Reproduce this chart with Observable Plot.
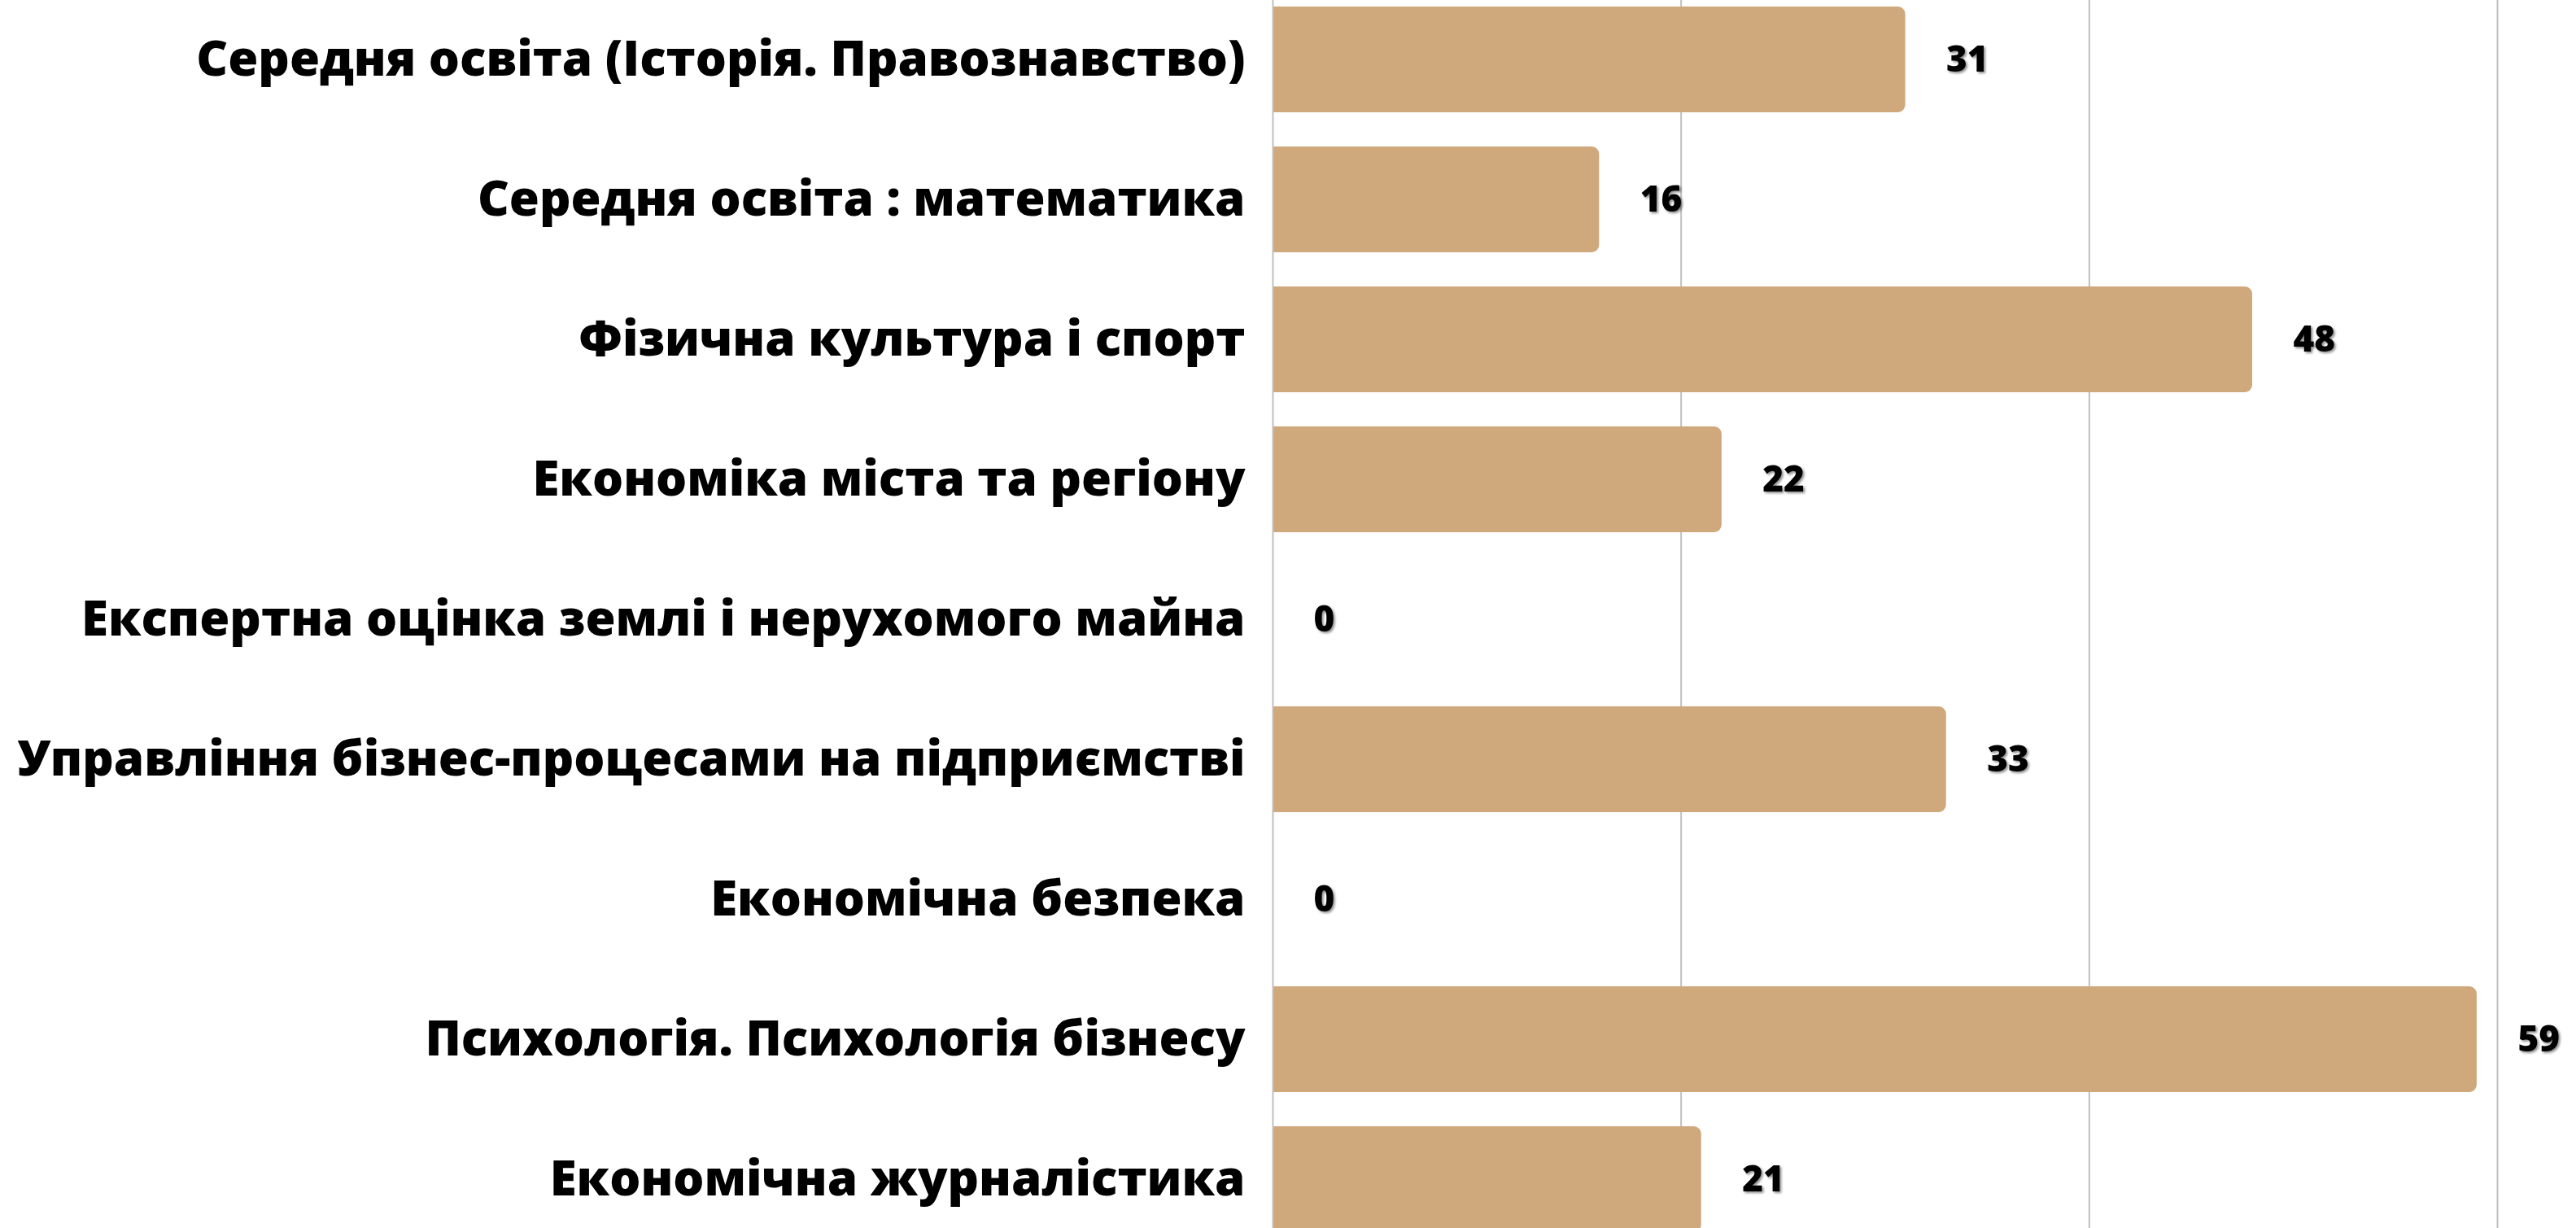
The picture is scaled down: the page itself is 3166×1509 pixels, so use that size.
<!DOCTYPE html>
<html>
<head>
<meta charset="utf-8">
<script src="https://cdn.jsdelivr.net/npm/d3@7"></script>
<script src="https://cdn.jsdelivr.net/npm/@observablehq/plot@0.6"></script>
<style>
  html, body { margin: 0; padding: 0; background: #ffffff; overflow: hidden; }
  #chart svg { display: block; }
  .vlabel text { filter: drop-shadow(2px 2px 1.5px rgba(0,0,0,0.45)); }
</style>
</head>
<body>
<div id="chart"></div>
<script>
const categories = [
  "Середня освіта (Історія. Правознавство)",
  "Середня освіта : математика",
  "Фізична культура і спорт",
  "Економіка міста та регіону",
  "Експертна оцінка землі і нерухомого майна",
  "Управління бізнес-процесами на підприємстві",
  "Економічна безпека",
  "Психологія. Психологія бізнесу",
  "Економічна журналістика"
];
const values = [31, 16, 48, 22, 0, 33, 0, 59, 21];
const gridTicks = [20, 40, 60];

const data = categories.map((c, i) => ({category: c, value: values[i]}));

const chart = Plot.plot({
  width: 3166,
  height: 1509,
  marginLeft: 1564,
  marginRight: 97,
  marginTop: 0,
  marginBottom: 0,
  style: {fontFamily: "'Open Sans', sans-serif", background: "#ffffff", color: "#000"},
  x: {domain: [0, 60], axis: null},
  y: {domain: categories, range: [-34, 1556], padding: 0.244, label: null},
  marks: [
    Plot.gridX(gridTicks, {stroke: "#bfbfbf", strokeOpacity: 1, strokeWidth: 2}),
    Plot.barX(data, {
      x: "value", y: "category", fill: "#cfa87c",
      rx2y1: 9, rx2y2: 9
    }),
    Plot.ruleX([0], {stroke: "#bfbfbf", strokeWidth: 2}),
    Plot.axisY({
      tickSize: 0, tickPadding: 34, label: null,
      fontSize: 60, fontWeight: 800, fill: "#000"
    }),
    Plot.text(data, {
      x: "value", y: "category", text: d => String(d.value),
      textAnchor: "start", dx: 50, fontSize: 44, fontWeight: 800,
      fill: "#000", className: "vlabel"
    })
  ]
});
document.getElementById("chart").appendChild(chart);
</script>
</body>
</html>
